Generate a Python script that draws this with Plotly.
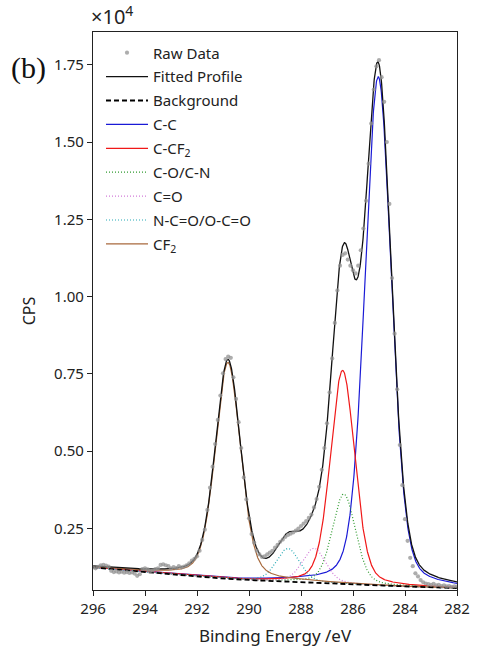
import numpy as np
import plotly.graph_objects as go

# ---- C 1s spectrum (counts in units of 1e4 CPS) ----
energy_start, energy_stop, energy_step = 296.0, 282.0, 0.1

raw_cps = [
    0.124, 0.121, 0.126, 0.131, 0.132, 0.130, 0.127, 0.113, 0.109, 0.111, 0.108, 0.110, 0.107, 0.109, 0.106, 0.108, 0.104, 0.097,
    0.102, 0.119, 0.121, 0.118, 0.112, 0.114, 0.119, 0.121, 0.132, 0.134, 0.131, 0.128, 0.121, 0.125, 0.122, 0.128, 0.124, 0.127,
    0.131, 0.137, 0.146, 0.152, 0.160, 0.178, 0.213, 0.246, 0.310, 0.382, 0.450, 0.523, 0.601, 0.680, 0.752, 0.798, 0.806, 0.802,
    0.739, 0.669, 0.594, 0.510, 0.415, 0.344, 0.283, 0.232, 0.204, 0.178, 0.166, 0.158, 0.160, 0.166, 0.172, 0.178, 0.188, 0.197,
    0.207, 0.214, 0.223, 0.229, 0.233, 0.237, 0.243, 0.250, 0.258, 0.266, 0.274, 0.284, 0.295, 0.318, 0.345, 0.385, 0.440, 0.510,
    0.590, 0.690, 0.800, 0.915, 1.020, 1.100, 1.135, 1.140, 1.120, 1.100, 1.085, 1.075, 1.100, 1.150, 1.220, 1.310, 1.430, 1.560,
    1.670, 1.745, 1.765, 1.710, 1.630, 1.500, 1.300, 1.060, 0.880, 0.700, 0.520, 0.390, 0.280, 0.210, 0.155, 0.128, 0.105, 0.095,
    0.083, 0.076, 0.072, 0.070, 0.068, 0.071, 0.066, 0.068, 0.064, 0.066, 0.063, 0.064, 0.061, 0.063, 0.062,
]

# Background anchor points (eV, 1e4 CPS)
bg_energy = [282.0, 284.0, 286.0, 288.0, 290.0, 291.0, 292.0, 294.0, 296.0]
bg_cps = [0.057, 0.062, 0.070, 0.078, 0.083, 0.088, 0.095, 0.109, 0.124]

# Fitted components: pseudo-Voigt peaks above the background
comp_names = ["C-C", "C-CF<sub>2</sub>", "C-O/C-N", "C=O", "N-C=O/O-C=O", "CF<sub>2</sub>"]
comp_center = [285.03, 286.40, 286.35, 287.50, 288.50, 290.81]
comp_height = [1.645, 0.690, 0.290, 0.110, 0.106, 0.700]
comp_fwhm = [1.20, 1.10, 1.05, 1.05, 1.05, 1.15]
comp_lorentz = [0.25, 0.25, 0.25, 0.25, 0.25, 0.30]

comp_color = ["#1a1ad6", "#f01818", "#2e9a2e", "#d27ad8", "#23a8b4", "#a8693c"]
comp_dash = ["solid", "solid", "1px,2px", "1px,2px", "1px,2px", "solid"]


def pseudo_voigt(x, center, height, fwhm, eta):
    u = (x - center) / fwhm
    gauss = np.exp(-4.0 * np.log(2.0) * u ** 2)
    lorentz = 1.0 / (1.0 + 4.0 * u ** 2)
    return height * ((1.0 - eta) * gauss + eta * lorentz)


raw_energy = np.round(np.arange(energy_start, energy_stop - 0.05, -energy_step), 1)
xs = np.linspace(energy_start, energy_stop, 1401)
bg_line = np.interp(xs, bg_energy, bg_cps)
components = [
    pseudo_voigt(xs, c, h, w, e)
    for c, h, w, e in zip(comp_center, comp_height, comp_fwhm, comp_lorentz)
]
fit_total = bg_line + np.sum(components, axis=0)

fig = go.Figure()

for i, (name, comp) in enumerate(zip(comp_names, components)):
    fig.add_trace(go.Scatter(
        x=xs, y=bg_line + comp, mode="lines", name=name,
        line=dict(color=comp_color[i], width=1.2, dash=comp_dash[i]),
        legendrank=4 + i, legendgroup=f"g{i + 4}",
    ))

fig.add_trace(go.Scatter(
    x=xs, y=fit_total, mode="lines", name="Fitted Profile",
    line=dict(color="#111111", width=1.3), legendrank=2, legendgroup="g2",
))
fig.add_trace(go.Scatter(
    x=xs, y=bg_line, mode="lines", name="Background",
    line=dict(color="#000000", width=1.8, dash="5px,3px"), legendrank=3, legendgroup="g3",
))
fig.add_trace(go.Scatter(
    x=raw_energy, y=raw_cps, mode="markers", name="Raw Data",
    marker=dict(color="rgba(145,145,145,0.75)", size=4.2, line=dict(width=0)),
    legendrank=1, legendgroup="g1",
))

sans = "Noto Sans, DejaVu Sans, sans-serif"
tick_font = dict(family=sans, size=15, color="#222222")
title_font = dict(family=sans, size=17, color="#222222")

fig.update_layout(
    width=482, height=654,
    margin=dict(l=93, r=13, t=32, b=60),
    paper_bgcolor="white", plot_bgcolor="white",
    font=tick_font,
    showlegend=True,
    legend=dict(
        x=0.022, y=0.992, xanchor="left", yanchor="top",
        bgcolor="rgba(0,0,0,0)", borderwidth=0,
        font=dict(family=sans, size=15, color="#222222"),
        itemwidth=42, tracegroupgap=1.4,
    ),
    xaxis=dict(
        range=[296, 282], tickvals=[296, 294, 292, 290, 288, 286, 284, 282],
        ticks="outside", ticklen=5, tickwidth=1.2, tickcolor="#222",
        showline=True, linecolor="#222", linewidth=1.3, mirror=True,
        showgrid=False, zeroline=False, tickfont=tick_font,
        title=dict(text="Binding Energy /eV", standoff=12, font=title_font),
    ),
    yaxis=dict(
        range=[0.051, 1.856], tickvals=[0.25, 0.50, 0.75, 1.00, 1.25, 1.50, 1.75],
        tickformat=".2f",
        ticks="outside", ticklen=5, tickwidth=1.2, tickcolor="#222",
        showline=True, linecolor="#222", linewidth=1.3, mirror=True,
        showgrid=False, zeroline=False, tickfont=tick_font,
        title=dict(text="CPS", standoff=14, font=dict(family=sans, size=16, color="#222222")),
    ),
)

fig.add_annotation(
    text="×10<sup>4</sup>", xref="paper", yref="paper", x=0, y=1.0,
    xanchor="left", yanchor="bottom", xshift=-4, yshift=0, showarrow=False,
    font=dict(family=sans, size=20, color="#222"),
)
fig.add_annotation(
    text="(b)", xref="paper", yref="paper", x=0, y=1.0,
    xanchor="right", yanchor="top", xshift=-45, yshift=-17, showarrow=False,
    font=dict(family="Liberation Serif, Times New Roman, serif", size=30, color="#111"),
)

fig.write_html("out.html")
